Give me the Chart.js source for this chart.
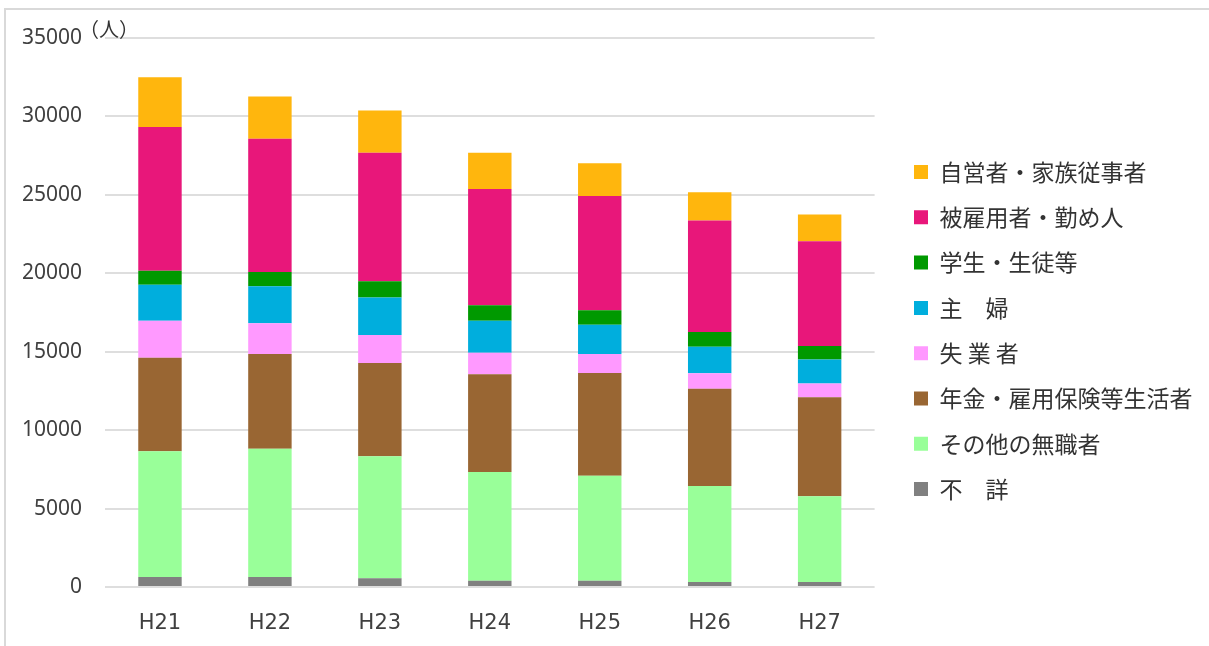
<!DOCTYPE html>
<html lang="ja">
<head>
<meta charset="utf-8">
<title>職業別</title>
<script src="https://cdn.jsdelivr.net/npm/chart.js@4.4.1/dist/chart.umd.min.js"></script>
<style>
  html, body { margin: 0; padding: 0; background: #fff; }
  #wrap { position: relative; width: 1209px; height: 646px; overflow: hidden; }
  #frame { position: absolute; left: 4px; top: 8px; right: -10px; bottom: -10px;
           border-top: 2px solid #d9d9d9; border-left: 2px solid #d9d9d9; pointer-events: none; }
  canvas { position: absolute; left: 0; top: 0; }
</style>
</head>
<body>
<div id="wrap">
  <canvas id="chartShokugyo" width="1209" height="646"></canvas>
  <div id="frame"></div>
</div>
<script>
// 年度
const years = ['H21', 'H22', 'H23', 'H24', 'H25', 'H26', 'H27'];

// 職業別の人数（下から順に積み上げ）
const fushou    = [640, 640, 550, 400, 400, 320, 320];           // 不詳
const sonota    = [8010, 8170, 7780, 6930, 6690, 6120, 5460];    // その他の無職者
const nenkin    = [5960, 6040, 5950, 6230, 6550, 6200, 6310];    // 年金・雇用保険等生活者
const shitsugyo = [2360, 1960, 1780, 1370, 1210, 980, 890];      // 失業者
const shufu     = [2300, 2370, 2400, 2040, 1870, 1700, 1530];    // 主婦
const gakusei   = [890, 900, 1040, 1000, 920, 930, 850];         // 学生・生徒等
const hiyoto    = [9160, 8490, 8180, 7410, 7280, 7120, 6690];    // 被雇用者・勤め人
const jiei      = [3180, 2700, 2700, 2300, 2100, 1790, 1700];    // 自営者・家族従事者

// 縦軸の目盛り
const yTicks = [0, 5000, 10000, 15000, 20000, 25000, 30000, 35000];

const series = [
    { label: '不　詳', data: fushou, color: '#808080' },
    { label: 'その他の無職者', data: sonota, color: '#99ff99' },
    { label: '年金・雇用保険等生活者', data: nenkin, color: '#996633' },
    { label: '失 業 者', data: shitsugyo, color: '#ff99ff' },
    { label: '主　婦', data: shufu, color: '#00aedd' },
    { label: '学生・生徒等', data: gakusei, color: '#009900' },
    { label: '被雇用者・勤め人', data: hiyoto, color: '#e8177a' },
    { label: '自営者・家族従事者', data: jiei, color: '#ffb60d' }
];

// 凡例の位置合わせと（人）の表示
const extras = {
    id: 'extras',
    afterLayout(chart) {
        const lg = chart.legend;
        if (!lg) return;
        const pad = lg.options.labels.padding;
        lg.left = 914 - pad;
        lg.right = chart.width;
        const colH = lg.columnSizes[0].height;
        const itemH = lg.options.labels.font.size;
        const startY = (lg.top + pad + lg.bottom - colH) / 2;
        const dy = 172 - (startY + itemH / 2);
        lg.top += dy;
        lg.bottom += dy;
    },
    afterDraw(chart) {
        const ctx = chart.ctx;
        ctx.save();
        ctx.fillStyle = '#333';
        ctx.font = '20px "Noto Sans CJK JP"';
        ctx.textBaseline = 'middle';
        ctx.fillText('（人）', chart.chartArea.left - 26, chart.chartArea.top - 9);
        ctx.restore();
    }
};

const chart = new Chart(document.getElementById('chartShokugyo'), {
    type: 'bar',
    data: {
        labels: years,
        datasets: series.map(s => ({
            label: s.label,
            data: s.data,
            backgroundColor: s.color,
            borderWidth: 0,
            barPercentage: 0.395,
            categoryPercentage: 1.0
        }))
    },
    options: {
        responsive: false,
        animation: false,
        layout: { padding: { left: 22, right: 25, top: 38, bottom: 12 } },
        plugins: {
            tooltip: { enabled: false },
            legend: {
                position: 'right',
                reverse: true,
                labels: {
                    boxWidth: 14,
                    boxHeight: 14,
                    padding: 22.3,
                    color: '#333',
                    font: { family: '"Noto Sans CJK JP"', size: 23 }
                }
            }
        },
        scales: {
            x: {
                stacked: true,
                grid: { display: false },
                border: { display: false },
                ticks: {
                    color: '#404040',
                    padding: 16,
                    font: { family: '"DejaVu Sans"', size: 21 }
                }
            },
            y: {
                stacked: true,
                min: 0,
                max: 35000,
                afterBuildTicks(axis) {
                    axis.ticks = yTicks.map(v => ({ value: v }));
                },
                grid: { color: '#dedede', lineWidth: 2, drawTicks: false },
                border: { display: false },
                ticks: {
                    color: '#404040',
                    padding: 23,
                    font: { family: '"Noto Sans"', size: 21 },
                    callback: v => String(v)
                }
            }
        }
    },
    plugins: [extras]
});

// プロット領域を元の図に合わせる
const target = { left: 105, right: 876, top: 38, bottom: 587 };
const area = chart.chartArea;
const p = chart.options.layout.padding;
p.left += target.left - area.left;
p.right += area.right - target.right;
p.top += target.top - area.top;
p.bottom += area.bottom - target.bottom;
chart.update();
</script>
</body>
</html>
